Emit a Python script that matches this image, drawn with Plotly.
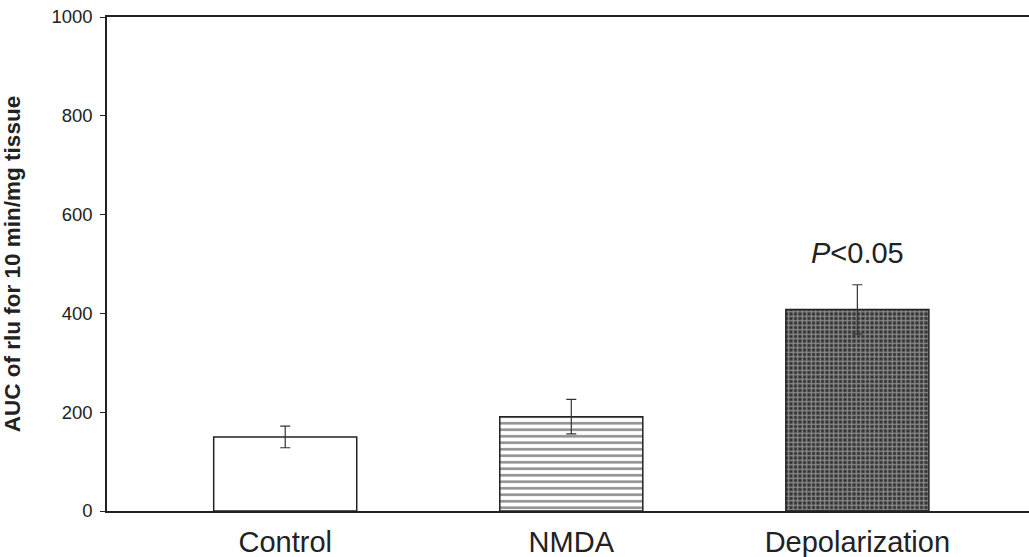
import plotly.graph_objects as go

categories = ["Control", "NMDA", "Depolarization"]
values = [150, 191, 408]
errors = [22, 35, 50]
annotation_text = "<i>P</i><0.05"

fig = go.Figure()
patterns = [
    dict(shape="", fgcolor="black", bgcolor="white"),
    dict(shape="-", size=6.5, solidity=0.4, fgcolor="#222222", bgcolor="white"),
    dict(shape="+", size=4.5, solidity=0.5, fgcolor="#e8e8e8", bgcolor="#333333"),
]
for i, (c, v, e) in enumerate(zip(categories, values, errors)):
    fig.add_trace(go.Bar(
        x=[i], y=[v], width=0.5,
        marker=dict(color="white", line=dict(color="#222222", width=1.5), pattern=patterns[i]),
        error_y=dict(type="data", array=[e], visible=True, color="#333333", thickness=1.2, width=5),
        showlegend=False,
    ))

fig.add_annotation(x=2, y=values[2] + errors[2] + 64, text=annotation_text, showarrow=False,
                   font=dict(family="Liberation Sans, Arial", size=29, color="#222222"))

fig.update_layout(
    width=1029, height=557,
    margin=dict(l=107, r=0, t=17, b=46, autoexpand=False),
    plot_bgcolor="white", paper_bgcolor="white",
    bargap=0.5,
    xaxis=dict(
        range=[-0.623, 2.6], tickmode="array", tickvals=[0, 1, 2], ticktext=categories,
        showline=True, linecolor="#222222", linewidth=1.5, mirror=True, ticks="",
        showgrid=False, zeroline=False, ticklabelstandoff=4, automargin=False,
        tickfont=dict(family="Liberation Sans, Arial", size=29, color="#222222"),
    ),
    yaxis=dict(
        range=[0, 1000], tickvals=[0, 200, 400, 600, 800, 1000],
        showline=True, linecolor="#222222", linewidth=1.5, ticks="outside", ticklen=5,
        tickcolor="#222222", showgrid=False, zeroline=False, automargin=False,
        ticklabelstandoff=4, ticklabeloverflow="allow",
        tickfont=dict(family="Liberation Sans, Arial", size=18.5, color="#222222"),
        title=dict(text="<b>AUC of rlu for 10 min/mg tissue</b>", standoff=26,
                   font=dict(family="Liberation Sans, Arial", size=22.5, color="#222222")),
    ),
)

fig.write_html("out.html", config={"displayModeBar": False},
               post_script="document.body.style.margin='0';")
